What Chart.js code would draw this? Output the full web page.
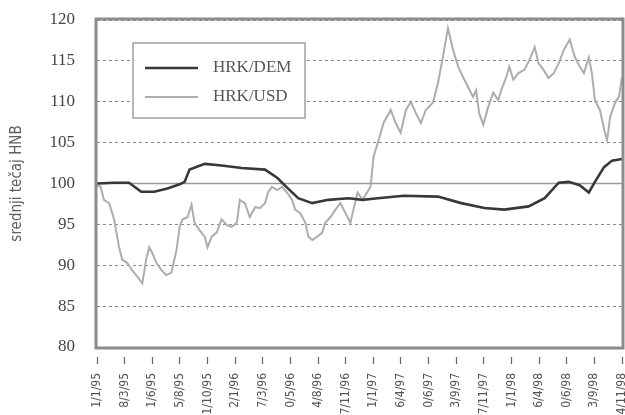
<!DOCTYPE html>
<html>
<head>
<meta charset="utf-8">
<script src="https://cdn.jsdelivr.net/npm/chart.js@4/dist/chart.umd.min.js"></script>
<style>
  html, body { margin: 0; padding: 0; background: #ffffff; }
  #wrap { width: 625px; height: 415px; overflow: hidden; }
</style>
</head>
<body>
<div id="wrap"><canvas id="c" width="625" height="415"></canvas></div>
<script>
// ---- data ----
const tickLabels = ["1/1/95","8/3/95","1/6/95","5/8/95","1/10/95","2/1/96","7/3/96","0/5/96","4/8/96","7/11/96",
                    "1/1/97","6/4/97","0/6/97","3/9/97","7/11/97","1/1/98","6/4/98","0/6/98","3/9/98","4/11/98"];
const seriesNames = ["HRK/DEM", "HRK/USD"];

// time position (in tick-label units) and value, HRK/DEM
const demT = [0, 0.62, 1.16, 1.6, 2.07, 2.55, 2.99, 3.17, 3.35, 3.9, 4.51, 5.24, 6.08, 6.52, 6.88, 7.28, 7.79, 8.37, 9.1, 9.61,
              10.16, 11.1, 12.34, 13.18, 14.02, 14.74, 15.62, 16.2, 16.71, 17.07, 17.47, 17.8, 18.02, 18.35, 18.64, 19];
const demV = [100.0, 100.1, 100.1, 99.0, 99.0, 99.4, 99.9, 100.2, 101.7, 102.4, 102.2, 101.9, 101.7, 100.7, 99.5, 98.2, 97.6, 98.0, 98.2, 98.0,
              98.2, 98.5, 98.4, 97.6, 97.0, 96.8, 97.2, 98.2, 100.1, 100.2, 99.8, 98.9, 100.2, 102.0, 102.8, 103.0];

// HRK/USD
const usdT = [0, 0.13, 0.25, 0.44, 0.62, 0.8, 0.91, 1.09, 1.27, 1.46, 1.64, 1.78, 1.89, 2.0, 2.15, 2.33, 2.51, 2.69, 2.88, 2.99,
              3.09, 3.28, 3.42, 3.53, 3.71, 3.9, 4.0, 4.15, 4.33, 4.51, 4.7, 4.88, 5.06, 5.17, 5.35, 5.53, 5.72, 5.9, 6.08, 6.19,
              6.33, 6.52, 6.7, 6.88, 7.06, 7.17, 7.35, 7.54, 7.65, 7.79, 7.97, 8.15, 8.26, 8.45, 8.63, 8.81, 8.99, 9.17, 9.28, 9.43,
              9.61, 9.9, 10.01, 10.19, 10.37, 10.63, 10.81, 10.99, 11.18, 11.36, 11.54, 11.72, 11.9, 12.16, 12.34, 12.52, 12.7, 12.89, 13.07, 13.25,
              13.43, 13.61, 13.72, 13.83, 13.98, 14.16, 14.34, 14.52, 14.63, 14.81, 14.92, 15.07, 15.25, 15.47, 15.65, 15.84, 15.98, 16.16, 16.34, 16.53,
              16.71, 16.89, 17.11, 17.29, 17.47, 17.62, 17.8, 17.91, 18.02, 18.2, 18.38, 18.46, 18.57, 18.75, 18.89, 19];
const usdV = [99.8, 99.6, 98.0, 97.6, 95.6, 92.2, 90.7, 90.3, 89.4, 88.6, 87.8, 90.7, 92.2, 91.5, 90.3, 89.4, 88.8, 89.1, 91.9, 94.7,
              95.6, 95.9, 97.4, 95.2, 94.3, 93.5, 92.2, 93.5, 94.0, 95.6, 94.9, 94.7, 95.2, 98.0, 97.6, 95.9, 97.1, 97.0, 97.6, 98.9,
              99.6, 99.2, 99.6, 98.9, 98.0, 96.8, 96.4, 95.2, 93.5, 93.1, 93.5, 94.0, 95.2, 95.9, 96.8, 97.6, 96.4, 95.2, 96.8, 98.9,
              98.0, 99.6, 103.3, 105.3, 107.4, 109.0, 107.4, 106.2, 109.0, 110.0, 108.6, 107.4, 109.0, 109.9, 112.3, 115.5, 119.0, 116.3, 114.3, 113.0,
              111.8, 110.6, 111.4, 108.6, 107.2, 109.4, 111.1, 110.2, 111.4, 113.0, 114.3, 112.7, 113.5, 113.9, 115.1, 116.7, 114.7, 113.9, 112.9, 113.5,
              114.7, 116.3, 117.6, 115.5, 114.3, 113.5, 115.4, 113.5, 110.2, 109.0, 106.2, 105.3, 108.1, 109.9, 110.6, 113.0];

const yMin = 80, yMax = 120, yStep = 5, refLevel = 100;
const yTitle = "srednji tečaj HNB";

const demPts = demT.map((t, i) => ({ x: t, y: demV[i] }));
const usdPts = usdT.map((t, i) => ({ x: t, y: usdV[i] }));

const serif = "'Liberation Serif', 'DejaVu Serif', serif";
const narrow = "'Liberation Sans Narrow', 'DejaVu Sans Condensed', sans-serif";

// frame, reference line and legend box
const decor = {
  id: 'decor',
  beforeDatasetsDraw(chart) {
    const { ctx, chartArea: a, scales: { y } } = chart;
    const yy = y.getPixelForValue(refLevel);
    ctx.save();
    ctx.strokeStyle = '#9a9a9a';
    ctx.lineWidth = 1.5;
    ctx.beginPath();
    ctx.moveTo(a.left, yy);
    ctx.lineTo(a.right, yy);
    ctx.stroke();
    ctx.restore();
  },
  afterDatasetsDraw(chart) {
    const { ctx, chartArea: a } = chart;
    ctx.save();
    // frame
    ctx.strokeStyle = '#8c8c8c';
    ctx.lineWidth = 3;
    ctx.strokeRect(a.left - 1, a.top - 1, a.right - a.left + 2, a.bottom - a.top + 2);
    // legend
    const bx = a.left + 36, by = a.top + 23, bw = 172, bh = 75;
    ctx.fillStyle = '#ffffff';
    ctx.fillRect(bx, by, bw, bh);
    ctx.strokeStyle = '#a0a0a0';
    ctx.lineWidth = 1.5;
    ctx.strokeRect(bx, by, bw, bh);
    chart.data.datasets.forEach((ds, i) => {
      const ly = by + 25 + i * 29;
      ctx.strokeStyle = ds.borderColor;
      ctx.lineWidth = i === 0 ? 2.5 : 2;
      ctx.beginPath();
      ctx.moveTo(bx + 12, ly);
      ctx.lineTo(bx + 65, ly);
      ctx.stroke();
      ctx.fillStyle = '#555555';
      ctx.font = '17px ' + serif;
      ctx.textBaseline = 'middle';
      ctx.textAlign = 'left';
      ctx.fillText(ds.label, bx + 80, ly);
    });
    ctx.restore();
  }
};

new Chart(document.getElementById('c'), {
  type: 'line',
  data: {
    datasets: [
      { label: seriesNames[0], data: demPts, borderColor: '#383838', borderWidth: 2.6, pointRadius: 0, tension: 0 },
      { label: seriesNames[1], data: usdPts, borderColor: '#adadad', borderWidth: 2, pointRadius: 0, tension: 0 }
    ]
  },
  options: {
    responsive: false,
    animation: false,
    events: [],
    layout: { padding: { top: 20, right: 3, left: 0, bottom: 0 } },
    plugins: { legend: { display: false }, tooltip: { enabled: false } },
    scales: {
      x: {
        type: 'linear',
        min: 0, max: tickLabels.length - 1,
        afterFit(s) { s.height = 68; s.paddingLeft = 0; s.paddingRight = 0; s.paddingTop = 0; s.paddingBottom = 0; },
        afterBuildTicks(s) { s.ticks = tickLabels.map((_, i) => ({ value: i })); },
        ticks: {
          autoSkip: false, minRotation: 90, maxRotation: 90, padding: 8,
          color: '#555555', font: { family: narrow, size: 12 },
          callback: (v) => tickLabels[v] ?? ''
        },
        grid: { drawOnChartArea: false, tickLength: 18, tickColor: '#666666', tickWidth: 1.2, tickBorderDash: [0, 10, 7, 100] },
        border: { display: false }
      },
      y: {
        min: yMin, max: yMax,
        afterFit(s) { s.width = 97; s.paddingTop = 0; s.paddingBottom = 0; s.paddingLeft = 0; s.paddingRight = 0; },
        ticks: { stepSize: yStep, padding: 22, color: '#444444', font: { family: serif, size: 17 } },
        grid: {
          drawTicks: false,
          color: (c) => (c.tick && c.tick.value === refLevel) ? 'rgba(0,0,0,0)' : '#8a8a8a',
          lineWidth: 1
        },
        border: { display: false, dash: [3, 3] },
        title: { display: true, text: yTitle, color: '#606060', font: { family: narrow, size: 15 }, padding: { top: 8, bottom: 0 } }
      }
    }
  },
  plugins: [decor]
});
</script>
</body>
</html>
